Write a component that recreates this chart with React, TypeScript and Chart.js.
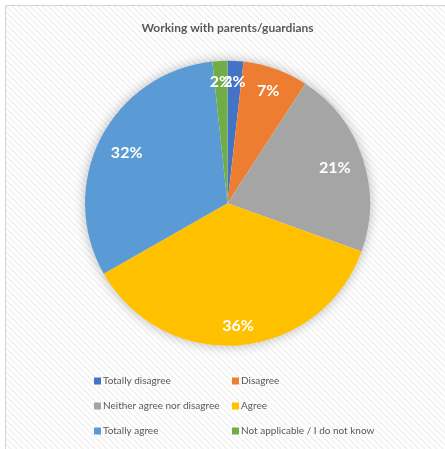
import React, { useEffect, useRef } from "react";
import { Chart, registerables } from "chart.js";

Chart.register(...registerables);

const categories = [
  "Totally disagree",
  "Disagree",
  "Neither agree nor disagree",
  "Agree",
  "Totally agree",
  "Not applicable / I do not know",
];
const shares = [1.8, 7.4, 21.3, 36.25, 31.55, 1.7];
const colors = ["#4472C4", "#ED7D31", "#A5A5A5", "#FFC000", "#5B9BD5", "#70AD47"];
const titleText = "Working with parents/guardians";

const FONT = "Lato, 'Open Sans', sans-serif";
const TEXT_GRAY = "#595959";

function makePattern(ctx: CanvasRenderingContext2D) {
  const c = document.createElement("canvas");
  c.width = 6;
  c.height = 6;
  const p = c.getContext("2d")!;
  p.fillStyle = "#ffffff";
  p.fillRect(0, 0, 6, 6);
  p.strokeStyle = "rgba(0,0,0,0.06)";
  p.lineWidth = 1.5;
  p.beginPath();
  p.moveTo(-1, -1);
  p.lineTo(7, 7);
  p.moveTo(-7, -1);
  p.lineTo(1, 7);
  p.moveTo(5, -1);
  p.lineTo(13, 7);
  p.stroke();
  return ctx.createPattern(c, "repeat");
}

const backgroundPlugin = {
  id: "bgFrame",
  beforeDraw(chart: any) {
    const { ctx, width, height } = chart;
    ctx.save();
    ctx.fillStyle = "#ffffff";
    ctx.fillRect(0, 0, width, height);
    const pat = makePattern(ctx);
    if (pat) {
      ctx.fillStyle = pat;
      ctx.fillRect(6, 6, width - 6, height - 6);
    }
    ctx.strokeStyle = "#d4d4d4";
    ctx.lineWidth = 1;
    ctx.beginPath();
    ctx.moveTo(5.5, height);
    ctx.lineTo(5.5, 5.5);
    ctx.lineTo(width, 5.5);
    ctx.stroke();
    ctx.restore();
  },
};

const shadowPlugin = {
  id: "pieShadow",
  beforeDatasetsDraw(chart: any) {
    const meta = chart.getDatasetMeta(0);
    const arc = meta.data[0];
    if (!arc) return;
    const { x, y, outerRadius } = arc.getProps(["x", "y", "outerRadius"], true);
    const ctx = chart.ctx;
    ctx.save();
    ctx.shadowColor = "rgba(0,0,0,0.28)";
    ctx.shadowBlur = 12;
    ctx.fillStyle = "#ffffff";
    ctx.beginPath();
    ctx.arc(x, y, outerRadius, 0, Math.PI * 2);
    ctx.fill();
    ctx.restore();
  },
};

const labelPlugin = {
  id: "sliceLabels",
  afterDatasetsDraw(chart: any) {
    const meta = chart.getDatasetMeta(0);
    const ctx = chart.ctx;
    ctx.save();
    ctx.font = `bold 16px ${FONT}`;
    ctx.fillStyle = "#ffffff";
    ctx.textAlign = "center";
    ctx.textBaseline = "middle";
    const inset = 12;
    meta.data.forEach((arc: any, i: number) => {
      const { x, y, startAngle, endAngle, outerRadius } = arc.getProps(
        ["x", "y", "startAngle", "endAngle", "outerRadius"],
        true
      );
      const mid = (startAngle + endAngle) / 2;
      const ux = Math.cos(mid);
      const uy = Math.sin(mid);
      const txt = Math.round(shares[i]) + "%";
      const hw = ctx.measureText(txt).width / 2;
      const hh = 7;
      const d = outerRadius - inset - (Math.abs(ux) * hw + Math.abs(uy) * hh);
      ctx.fillText(txt, x + ux * d, y + uy * d + 1);
    });
    ctx.restore();
  },
};

const legendPlugin = {
  id: "gridLegend",
  afterDraw(chart: any) {
    const ctx = chart.ctx;
    const left = 94;
    const colW = 138;
    const top = 381;
    const rowH = 25;
    const box = 7;
    ctx.save();
    ctx.font = `10px ${FONT}`;
    ctx.textBaseline = "middle";
    ctx.textAlign = "left";
    categories.forEach((name, i) => {
      const col = i % 2;
      const row = Math.floor(i / 2);
      const bx = left + col * colW;
      const cy = top + row * rowH;
      ctx.fillStyle = colors[i];
      ctx.fillRect(bx, cy - box / 2, box, box);
      ctx.fillStyle = TEXT_GRAY;
      ctx.fillText(name, bx + 9, cy);
    });
    ctx.restore();
  },
};

export default function App() {
  const ref = useRef<HTMLCanvasElement>(null);
  useEffect(() => {
    if (!ref.current) return;
    const chart = new Chart(ref.current, {
      type: "pie",
      data: {
        labels: categories,
        datasets: [
          {
            data: shares,
            backgroundColor: colors,
            borderWidth: 0,
          },
        ],
      },
      options: {
        animation: false,
        responsive: true,
        maintainAspectRatio: false,
        layout: { padding: { left: 85, right: 75, top: 0, bottom: 103 } },
        plugins: {
          legend: { display: false },
          tooltip: { enabled: false },
          title: {
            display: true,
            text: titleText,
            color: TEXT_GRAY,
            font: { family: FONT, size: 12, weight: "bold" },
            padding: { top: 21, bottom: 25 },
          },
        },
      },
      plugins: [backgroundPlugin, shadowPlugin, labelPlugin, legendPlugin],
    });
    return () => chart.destroy();
  }, []);
  return (
    <div style={{ position: "fixed", left: 0, top: 0, width: 445, height: 449 }}>
      <canvas ref={ref} />
    </div>
  );
}
